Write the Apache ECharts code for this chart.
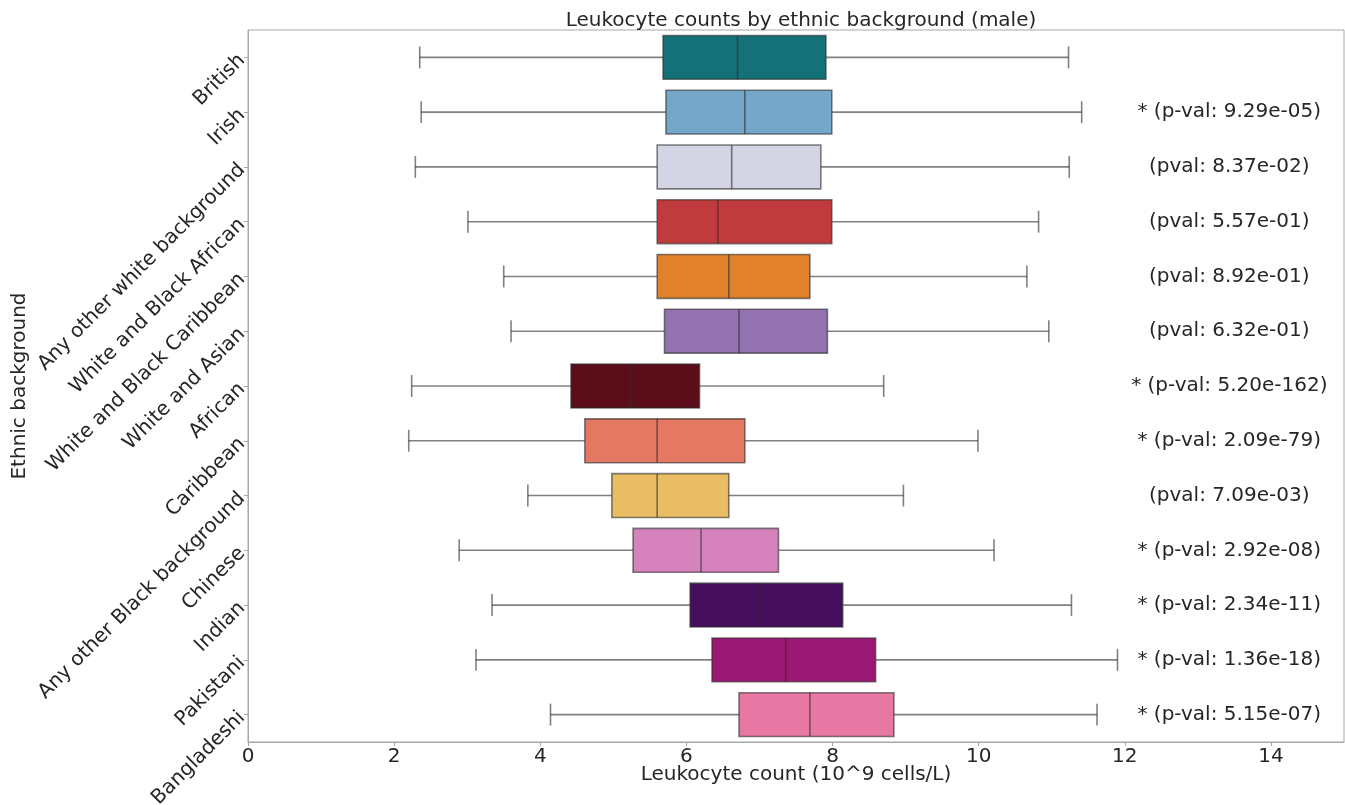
<!DOCTYPE html>
<html>
<head>
<meta charset="utf-8">
<title>Leukocyte counts by ethnic background (male)</title>
<script src="https://cdn.jsdelivr.net/npm/echarts@6/dist/echarts.min.js"></script>
<style>
  html, body { margin: 0; padding: 0; background: #ffffff; }
  #chart { width: 1345px; height: 805px; }
</style>
</head>
<body>
<div id="chart"></div>
<script>
// Ethnic groups, top to bottom
const categories = [
  'British', 'Irish', 'Any other white background', 'White and Black African',
  'White and Black Caribbean', 'White and Asian', 'African', 'Caribbean',
  'Any other Black background', 'Chinese', 'Indian', 'Pakistani', 'Bangladeshi'
];

// Box-plot statistics per group (10^9 cells/L)
const whiskerLow  = [2.35, 2.37, 2.29, 3.01, 3.50, 3.60, 2.24, 2.20, 3.83, 2.89, 3.34, 3.12, 4.14];
const quartile1   = [5.68, 5.72, 5.60, 5.60, 5.60, 5.70, 4.42, 4.61, 4.98, 5.27, 6.05, 6.35, 6.72];
const medians     = [6.70, 6.80, 6.62, 6.43, 6.58, 6.72, 5.23, 5.60, 5.60, 6.20, 7.00, 7.36, 7.69];
const quartile3   = [7.91, 7.99, 7.84, 7.99, 7.69, 7.93, 6.18, 6.80, 6.58, 7.26, 8.14, 8.59, 8.84];
const whiskerHigh = [11.23, 11.41, 11.24, 10.82, 10.66, 10.96, 8.70, 9.99, 8.97, 10.21, 11.27, 11.90, 11.62];

// Test results against the British group
const pvalLabels = [
  '', '* (p-val: 9.29e-05)', '(pval: 8.37e-02)', '(pval: 5.57e-01)', '(pval: 8.92e-01)',
  '(pval: 6.32e-01)', '* (p-val: 5.20e-162)', '* (p-val: 2.09e-79)', '(pval: 7.09e-03)',
  '* (p-val: 2.92e-08)', '* (p-val: 2.34e-11)', '* (p-val: 1.36e-18)', '* (p-val: 5.15e-07)'
];

// x-axis ticks
const xTicks = [0, 2, 4, 6, 8, 10, 12, 14];

// Fill colour of each box
const boxColors = [
  '#137177', '#74a7c8', '#d3d4e4', '#c03b3e', '#e1812b', '#9372b0', '#5b0e19',
  '#e57862', '#e8bd63', '#d683bd', '#450e5c', '#9a1873', '#e778a3'
];

const FONT = 'DejaVu Sans';
const FONT_SIZE = 20;
const TEXT = '#262626';
const LINE = 'rgba(45,45,45,0.6)';
const ANNOT_X = 13.43;

const boxRows = categories.map((c, i) =>
  [i, whiskerLow[i], quartile1[i], medians[i], quartile3[i], whiskerHigh[i]]);
const annotRows = categories.map((c, i) => [ANNOT_X, i]);

// One box with whiskers, caps and median line per category
function renderBox(params, api) {
  const i = api.value(0);
  const lo = api.coord([api.value(1), i]);
  const q1 = api.coord([api.value(2), i]);
  const md = api.coord([api.value(3), i]);
  const q3 = api.coord([api.value(4), i]);
  const hi = api.coord([api.value(5), i]);
  const band = api.size([0, 1])[1];
  const h = band * 0.8;
  const cap = h * 0.5;
  const cy = lo[1];
  const ls = { stroke: LINE, lineWidth: 1.6 };
  return {
    type: 'group',
    children: [
      { type: 'line', shape: { x1: lo[0], y1: cy, x2: q1[0], y2: cy }, style: ls },
      { type: 'line', shape: { x1: q3[0], y1: cy, x2: hi[0], y2: cy }, style: ls },
      { type: 'line', shape: { x1: lo[0], y1: cy - cap / 2, x2: lo[0], y2: cy + cap / 2 }, style: ls },
      { type: 'line', shape: { x1: hi[0], y1: cy - cap / 2, x2: hi[0], y2: cy + cap / 2 }, style: ls },
      { type: 'rect', shape: { x: q1[0], y: cy - h / 2, width: q3[0] - q1[0], height: h },
        style: { fill: boxColors[i], stroke: LINE, lineWidth: 1.6 } },
      { type: 'line', shape: { x1: md[0], y1: cy - h / 2, x2: md[0], y2: cy + h / 2 }, style: ls }
    ]
  };
}

// p-value note at the right of each row
function renderAnnot(params, api) {
  const i = api.value(1);
  const p = api.coord([api.value(0), i]);
  return {
    type: 'text',
    x: p[0], y: p[1],
    style: {
      text: pvalLabels[i], fill: TEXT, font: FONT_SIZE + 'px "' + FONT + '"',
      align: 'center', verticalAlign: 'middle'
    }
  };
}

const chart = echarts.init(document.getElementById('chart'));
chart.setOption({
  backgroundColor: '#ffffff',
  animation: false,
  title: {
    text: 'Leukocyte counts by ethnic background (male)',
    left: 796, top: 6, textAlign: 'center',
    textStyle: { fontFamily: FONT, fontSize: FONT_SIZE, fontWeight: 'normal', color: TEXT }
  },
  grid: {
    left: 248, right: 1, top: 30, bottom: 63,
    outerBoundsMode: 'none', containLabel: false,
    show: true, borderColor: '#a8a8a8', borderWidth: 1, backgroundColor: 'transparent'
  },
  xAxis: {
    type: 'value', min: 0, max: 15, interval: 2,
    name: 'Leukocyte count (10^9 cells/L)', nameLocation: 'middle', nameGap: 23,
    nameMoveOverlap: false,
    nameTextStyle: { fontFamily: FONT, fontSize: FONT_SIZE, color: TEXT },
    axisLine: { show: true, lineStyle: { color: '#a8a8a8' } },
    axisTick: { show: true, length: 4, lineStyle: { color: '#a8a8a8' } },
    axisLabel: {
      fontFamily: FONT, fontSize: FONT_SIZE, color: TEXT, margin: 5, showMaxLabel: false,
      formatter: v => (xTicks.indexOf(v) >= 0 ? String(v) : '')
    },
    splitLine: { show: false }
  },
  yAxis: {
    type: 'category', data: categories, inverse: true,
    name: 'Ethnic background', nameLocation: 'middle', nameGap: 218, nameRotate: 90,
    nameMoveOverlap: false,
    nameTextStyle: { fontFamily: FONT, fontSize: FONT_SIZE, color: TEXT },
    axisLine: { show: true, lineStyle: { color: '#a8a8a8' } },
    axisTick: { show: true, alignWithLabel: true, length: 4, lineStyle: { color: '#a8a8a8' } },
    axisLabel: { fontFamily: FONT, fontSize: FONT_SIZE, color: TEXT, rotate: 45, margin: 6 },
    splitLine: { show: false }
  },
  series: [
    {
      type: 'custom', name: 'boxes', renderItem: renderBox,
      encode: { x: [1, 2, 3, 4, 5], y: 0 }, data: boxRows, z: 3
    },
    {
      type: 'custom', name: 'pvalues', renderItem: renderAnnot,
      encode: { x: 0, y: 1 }, data: annotRows, z: 4
    }
  ]
});
</script>
</body>
</html>
